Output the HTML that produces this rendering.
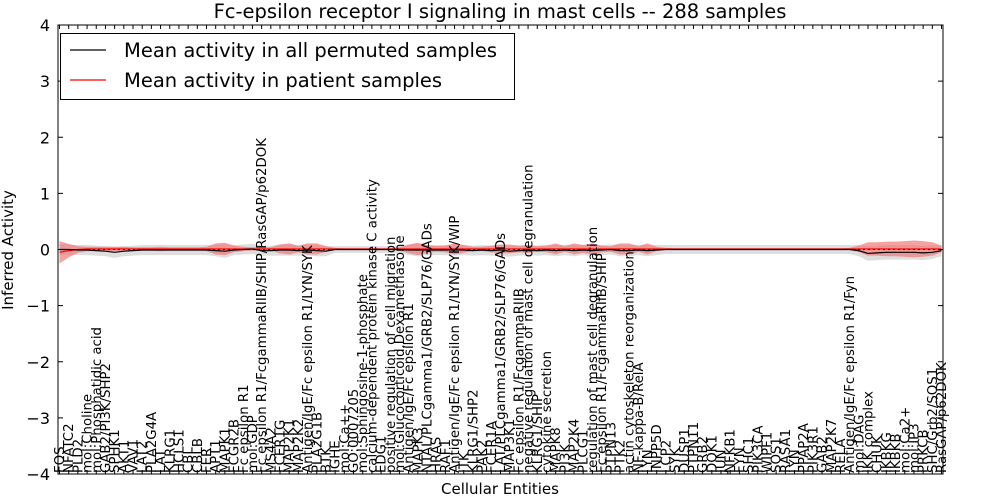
<!DOCTYPE html>
<html><head><meta charset="utf-8"><style>
body{margin:0;background:#fff;}
svg{display:block;font-family:"DejaVu Sans","Liberation Sans",sans-serif;}
</style></head><body>
<svg id="chart" width="1000" height="500"></svg>
<script>
const labels=["FOS","NFATC2","PLD2","mol:Choline","mol:Phosphatidic acid","GAB2/PI3K/SHP2","SPHK1","AKT1","VAV1","LAT2","PLA2G4A","LAT","KLRG1","HCLS1","CBL","CBLB","FER","APT1","MAPK1","FCGR2B","Fc epsilon R1","mol:GDP","Fc epsilon R1/FcgammaRIIB/SHIP/RasGAP/p62DOK","MS4A2","FCER1G","MAP2K1","MAP2K2","Antigen/IgE/Fc epsilon R1/LYN/SYK","PLA2G1B","BTK","IGHE","mol:Ca++","GO:0007205","mol:Sphingosine-1-phosphate","calcium-dependent protein kinase C activity","EDG1","positive regulation of cell migration","mol:Glucocorticoid,Dexamethasone","Antigen/IgE/Fc epsilon R1","MAPK3","NTAL/PLCgamma1/GRB2/SLP76/GADs","HRAS","RAF1","Antigen/IgE/Fc epsilon R1/LYN/SYK/WIP","ITK","KLRG1/SHP2","PAK2","FCER1A","LAT/PLCgamma1/GRB2/SLP76/GADs","MAP3K1","Fc epsilon R1/FcgammaRIIB","negative regulation of mast cell degranulation","KLRG1/SHIP","cytokine secretion","MAPK8","PI3K","MAP2K4","PLCG1","regulation of mast cell degranulation","Fc epsilon R1/FcgammaRIIB/SHIP","PTPN13","PTK2","actin cytoskeleton reorganization","NF-kappa-B/RelA","LYN","INPP5D","LCP2","SYK","DUSP1","PTPN11","GRB2","DOK1","JUN","NFKB1","FYN","SHC1","PIK3CA","WIPF1","SOS1","RASA1","LYN","PPAP2A","PIK3R1","GAB2","MAP2K7","RELA","Antigen/IgE/Fc epsilon R1/Fyn","mol:DAG","IKK complex","CHUK","IKBKG","IKBKB","mol:Ca2+","mol:IP3","PRKCB","SHC/Grb2/SOS1","RasGAP/p62DOK"];
const redMean=[-0.05,-0.02,0,0.01,0.01,0.01,0.01,0.01,0.01,0.01,0.01,0.01,0.01,0.01,0.01,0.01,0.01,0.01,0.01,0.01,0.01,0.01,0.01,0.01,0.01,0.01,0.01,0.01,0.01,0.01,0.01,0.01,0.01,0.01,0.01,0.01,0.01,0.01,0.01,0.01,0.01,0.01,0.01,0.01,0.01,0.01,0.01,0.01,0.01,0.01,0.01,0.01,0.01,0.01,0.01,0.01,0.01,0.01,0.01,0.01,0.01,0.01,0.01,0.01,0.01,0.01,0.01,0.01,0.01,0.01,0.01,0.01,0.01,0.01,0.01,0.01,0.01,0.01,0.01,0.01,0.01,0.01,0.01,0.01,0.01,0.01,0.01,0.01,0.01,0.01,0.01,0.01,0.01,0.01,0.01,0.01,0.01];
const redBand=[.2,.12,.06,.04,.04,.04,.04,.04,.03,.03,.03,.04,.03,.03,.03,.03,.04,.1,.11,.06,.04,.03,.03,.03,.08,.1,.06,.1,.1,.05,.02,.01,.01,.01,.01,.01,.01,.03,.08,.11,.07,.05,.06,.1,.07,.04,.04,.06,.08,.08,.06,.07,.05,.06,.1,.05,.1,.07,.1,.06,.05,.1,.1,.05,.1,.04,.02,.01,.01,.01,.01,.01,.01,.01,.01,.01,.01,.01,.01,.01,.01,.01,.01,.01,.01,.01,.02,.06,.12,.12,.13,.13,.14,.15,.14,.12,.06];
const blackMean=[0,0,-0.01,-0.01,-0.02,-0.03,-0.05,-0.03,-0.02,-0.01,-0.01,-0.01,-0.01,-0.01,-0.01,-0.01,-0.01,-0.02,-0.03,-0.01,0,0.01,-0.02,-0.02,-0.01,-0.01,-0.02,-0.01,-0.02,-0.03,0,0,0,0,0,0,0,0,-0.01,-0.01,-0.01,-0.01,-0.01,-0.01,-0.01,-0.02,-0.01,-0.02,-0.01,-0.03,-0.02,-0.01,-0.02,-0.01,-0.02,-0.01,-0.02,-0.01,-0.02,-0.01,0,-0.02,-0.02,-0.01,-0.02,-0.01,0,0,0,0,0,0,0,0,0,0,0,0,0,0,0,0,0,0,0,0,0,-0.02,-0.07,-0.06,-0.05,-0.05,-0.05,-0.05,-0.06,-0.05,-0.02];
const greyBand=[.1,.09,.09,.09,.09,.09,.1,.09,.09,.09,.09,.09,.09,.09,.09,.09,.09,.1,.12,.09,.09,.09,.09,.09,.1,.1,.09,.1,.1,.09,.06,.06,.06,.06,.06,.06,.06,.07,.09,.11,.09,.09,.09,.1,.09,.09,.09,.09,.1,.1,.09,.09,.09,.09,.1,.09,.1,.09,.1,.09,.09,.1,.1,.09,.1,.09,.08,.08,.08,.08,.08,.08,.08,.08,.08,.08,.08,.08,.08,.08,.08,.08,.08,.08,.08,.08,.08,.1,.13,.13,.13,.13,.13,.13,.13,.12,.1];
const yTicks=[-4,-3,-2,-1,0,1,2,3,4];

const svg=document.getElementById('chart');
const NS='http://www.w3.org/2000/svg';
const L=58,R=943,T=25,B=474;
const n=labels.length;
const step=(R-L-3)/(n-1);
const X=i=>L+1.5+i*step;
const Y=v=>T+(4-v)/8*(B-T);
function el(tag,attrs,parent){const e=document.createElementNS(NS,tag);for(const k in attrs)e.setAttribute(k,attrs[k]);(parent||svg).appendChild(e);return e;}
function band(mean,w){let up=[],dn=[];for(let i=0;i<n;i++){up.push(X(i)+','+Y(mean[i]+w[i]));dn.unshift(X(i)+','+Y(mean[i]-w[i]));}return up.concat(dn).join(' ');}
function line(arr){return arr.map((v,i)=>X(i)+','+Y(v)).join(' ');}

const g1=el('polygon',{points:band(blackMean,greyBand),fill:'#c8c8c8','fill-opacity':0.6,stroke:'none'});


const g2=el('polygon',{points:band(redMean,redBand),fill:'#f07070','fill-opacity':0.65,stroke:'none'});


const zl=el('line',{x1:L,x2:R,y1:Y(0),y2:Y(0),stroke:'#000','stroke-dasharray':'2,3','stroke-width':1});


const rl=el('polyline',{points:line(redMean),fill:'none',stroke:'#ff0000','stroke-width':1.2});


const bl=el('polyline',{points:line(blackMean),fill:'none',stroke:'#000','stroke-width':1.2});



const fr=el('rect',{x:L,y:T,width:R-L,height:B-T,fill:'none',stroke:'#000','stroke-width':1});



yTicks.forEach(v=>{
  el('line',{x1:L,x2:L+5,y1:Y(v),y2:Y(v),stroke:'#000'});
  el('line',{x1:R-5,x2:R,y1:Y(v),y2:Y(v),stroke:'#000'});
  const t=el('text',{x:L-8,y:Y(v)+6,'text-anchor':'end','font-size':16});
  t.textContent=(v<0?'\u2212':'')+Math.abs(v);
  
  
});
labels.forEach((s,i)=>{
  el('line',{x1:X(i),x2:X(i),y1:B,y2:B-4,stroke:'#000'});
  el('line',{x1:X(i),x2:X(i),y1:T,y2:T+4,stroke:'#000'});
  const t=el('text',{transform:'translate('+(X(i)+4.5)+','+(B-1)+') rotate(-90)','font-size':13.3});
  t.textContent=s;
  
  
});

const title=el('text',{x:500,y:18,'text-anchor':'middle','font-size':19.5});
title.textContent='Fc-epsilon receptor I signaling in mast cells -- 288 samples';


const yl=el('text',{transform:'translate(13,250) rotate(-90)','text-anchor':'middle','font-size':15});
yl.textContent='Inferred Activity';


const xl=el('text',{x:500,y:494,'text-anchor':'middle','font-size':15});
xl.textContent='Cellular Entities';



const lg=el('g',{});


el('rect',{x:60.5,y:33.5,width:454,height:66,fill:'#fff',stroke:'#000'},lg);
el('line',{x1:70,x2:106,y1:50,y2:50,stroke:'#000','stroke-width':1.2},lg);
el('line',{x1:70,x2:106,y1:80,y2:80,stroke:'#ff0000','stroke-width':1.2},lg);
const t1=el('text',{x:124,y:57,'font-size':19.5},lg);t1.textContent='Mean activity in all permuted samples';


const t2=el('text',{x:124,y:87,'font-size':19.5},lg);t2.textContent='Mean activity in patient samples';


</script>
</body></html>
